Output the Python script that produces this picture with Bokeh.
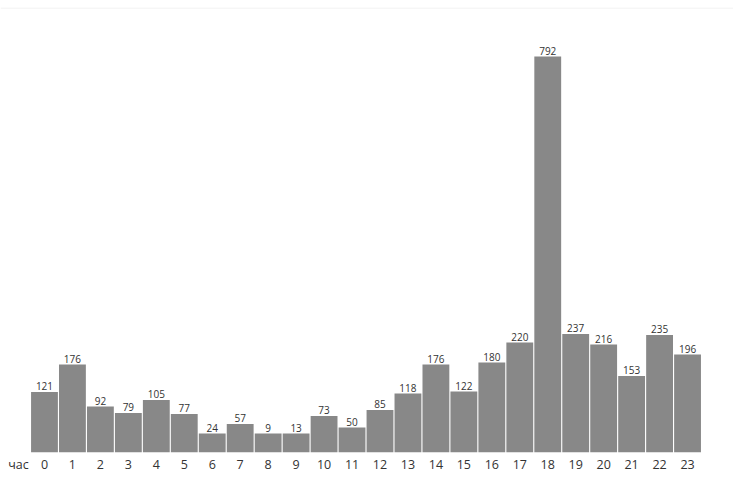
from bokeh.plotting import figure
from bokeh.models import ColumnDataSource, FixedTicker, Range1d, Span
from bokeh.core.properties import value
from bokeh.embed import file_html
from bokeh.resources import INLINE

hours = list(range(24))
counts = [121, 176, 92, 79, 105, 77, 24, 57, 9, 13, 73, 50, 85, 118, 176, 122, 180, 220, 792, 237, 216, 153, 235, 196]
hour_labels = [str(h) for h in hours]
axis_title = "час"
min_bar = 38  # bars are drawn at least this tall so the label fits

tops = [max(c, min_bar) for c in counts]
src = ColumnDataSource(dict(x=hours, top=tops, label=[str(c) for c in counts]))

p = figure(width=733, height=489, output_backend="svg", toolbar_location=None,
           x_range=Range1d(-1.573, 24.644), y_range=Range1d(0, 890),
           min_border_left=0, min_border_right=0, min_border_top=7, min_border_bottom=37)
p.outline_line_color = None
p.grid.visible = False
p.yaxis.visible = False
p.background_fill_color = "white"

p.vbar(x="x", top="top", width=0.96, bottom=0, source=src, fill_color="#888888", line_color=None)
p.text(x="x", y="top", text="label", source=src, text_align="center", text_baseline="bottom",
       y_offset=-2, text_font=value("Open Sans"), text_font_size="10px", text_color="#333333")

p.add_layout(Span(location=889, dimension="width", line_color="#eeeeee", line_width=1))

ticks = [-0.93] + hours
p.xaxis.ticker = FixedTicker(ticks=ticks)
p.xaxis.major_label_overrides = {t: l for t, l in zip(ticks, [axis_title] + hour_labels)}
p.xaxis.axis_line_color = None
p.xaxis.major_tick_line_color = None
p.xaxis.minor_tick_line_color = None
p.xaxis.major_tick_out = 0
p.xaxis.major_tick_in = 0
p.xaxis.major_label_standoff = 3
p.xaxis.major_label_text_font = "Open Sans"
p.xaxis.major_label_text_font_size = "12.5px"
p.xaxis.major_label_text_color = "#333333"

open("out.html", "w").write(file_html(p, INLINE))
